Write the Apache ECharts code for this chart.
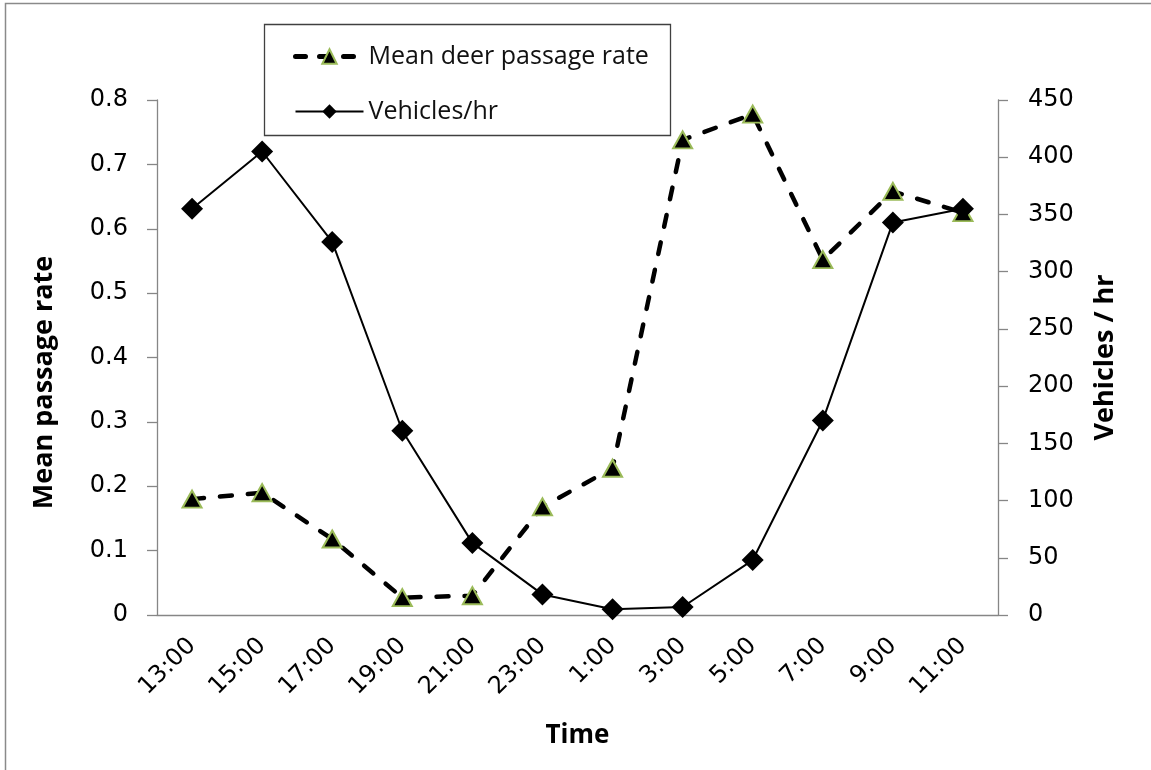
<!DOCTYPE html>
<html>
<head>
<meta charset="utf-8">
<script src="https://cdn.jsdelivr.net/npm/echarts@6/dist/echarts.min.js"></script>
<style>
html,body{margin:0;padding:0;background:#fff;}
#c{width:1151px;height:770px;}
</style>
</head>
<body>
<div id="c"></div>
<script>
var categories = ['13:00','15:00','17:00','19:00','21:00','23:00','1:00','3:00','5:00','7:00','9:00','11:00'];
var deerRate = [0.18, 0.19, 0.118, 0.027, 0.03, 0.168, 0.228, 0.738, 0.778, 0.552, 0.658, 0.625];
var vehicles = [355, 405, 326, 161, 63, 18, 5, 7, 48, 170, 343, 355];
var leftTicks = {min: 0, max: 0.8, interval: 0.1};
var rightTicks = {min: 0, max: 450, interval: 50};

var tickFont = 'DejaVu Sans';
var nameFont = 'Open Sans';
var axisGray = '#868686';
var deerLine = {color: '#000', width: 4.5, type: [12, 16], cap: 'round'};

var chart = echarts.init(document.getElementById('c'), null, {renderer: 'canvas'});
chart.setOption({
  backgroundColor: '#fff',
  animation: false,
  graphic: [
    {type: 'rect', z: 0, shape: {x: 5.5, y: 3.5, width: 1300, height: 900}, style: {fill: '#fff', stroke: '#8a8a8a', lineWidth: 1.5}},
    {type: 'rect', z: 50, shape: {x: 264.5, y: 24.5, width: 406, height: 111}, style: {fill: '#fff', stroke: '#404040', lineWidth: 1.3}}
  ],
  legend: {
    z: 60,
    orient: 'vertical',
    left: 288,
    top: 39,
    itemWidth: 68,
    itemHeight: 18,
    itemGap: 30,
    textStyle: {fontFamily: nameFont, fontSize: 25, color: '#111', padding: [0, 0, 0, 0]},
    data: [
      {name: 'Mean deer passage rate', lineStyle: {width: 5, type: [10, 14], cap: 'round'}},
      {name: 'Vehicles/hr', lineStyle: {width: 2}}
    ]
  },
  grid: {left: 157, right: 153, top: 100, bottom: 155, containLabel: false},
  xAxis: {
    type: 'category',
    data: categories,
    boundaryGap: true,
    name: 'Time',
    nameLocation: 'middle',
    nameGap: 108,
    nameTextStyle: {fontFamily: nameFont, fontWeight: 'bold', fontSize: 26, color: '#000'},
    axisLine: {lineStyle: {color: axisGray, width: 1.3}},
    axisTick: {alignWithLabel: false, length: 9, lineStyle: {color: axisGray, width: 1.3}},
    axisLabel: {rotate: 45, margin: 27, fontFamily: tickFont, fontSize: 24, color: '#000', interval: 0},
    splitLine: {show: false}
  },
  yAxis: [
    {
      type: 'value',
      min: leftTicks.min, max: leftTicks.max, interval: leftTicks.interval,
      name: 'Mean passage rate',
      nameLocation: 'middle',
      nameGap: 99,
      nameRotate: 90,
      nameTextStyle: {fontFamily: nameFont, fontWeight: 'bold', fontSize: 27, color: '#000', padding: [0, 50, 0, 0]},
      axisLine: {show: true, lineStyle: {color: axisGray, width: 1.3}},
      axisTick: {show: true, length: 10, lineStyle: {color: axisGray, width: 1.3}},
      axisLabel: {margin: 29, fontFamily: tickFont, fontSize: 24, color: '#000',
        formatter: function (v) { return v === 0 ? '0' : v.toFixed(1); }},
      splitLine: {show: false}
    },
    {
      type: 'value',
      position: 'right',
      min: rightTicks.min, max: rightTicks.max, interval: rightTicks.interval,
      name: 'Vehicles / hr',
      nameLocation: 'middle',
      nameGap: 94,
      nameRotate: 90,
      nameTextStyle: {fontFamily: nameFont, fontWeight: 'bold', fontSize: 27, color: '#000'},
      axisLine: {show: true, lineStyle: {color: axisGray, width: 1.3}},
      axisTick: {show: true, length: 10, lineStyle: {color: axisGray, width: 1.3}},
      axisLabel: {margin: 30, fontFamily: tickFont, fontSize: 24, color: '#000'},
      splitLine: {show: false}
    }
  ],
  series: [
    {
      name: 'Mean deer passage rate',
      type: 'line',
      yAxisIndex: 0,
      data: deerRate,
      symbol: 'triangle',
      symbolSize: [19, 17],
      itemStyle: {color: '#000', borderColor: '#9BBB59', borderWidth: 2},
      lineStyle: deerLine,
      z: 3
    },
    {
      name: 'Vehicles/hr',
      type: 'line',
      yAxisIndex: 1,
      data: vehicles,
      symbol: 'diamond',
      symbolSize: [22, 22],
      itemStyle: {color: '#000', borderColor: '#000', borderWidth: 0},
      lineStyle: {color: '#000', width: 2},
      z: 4
    }
  ]
});
</script>
</body>
</html>
